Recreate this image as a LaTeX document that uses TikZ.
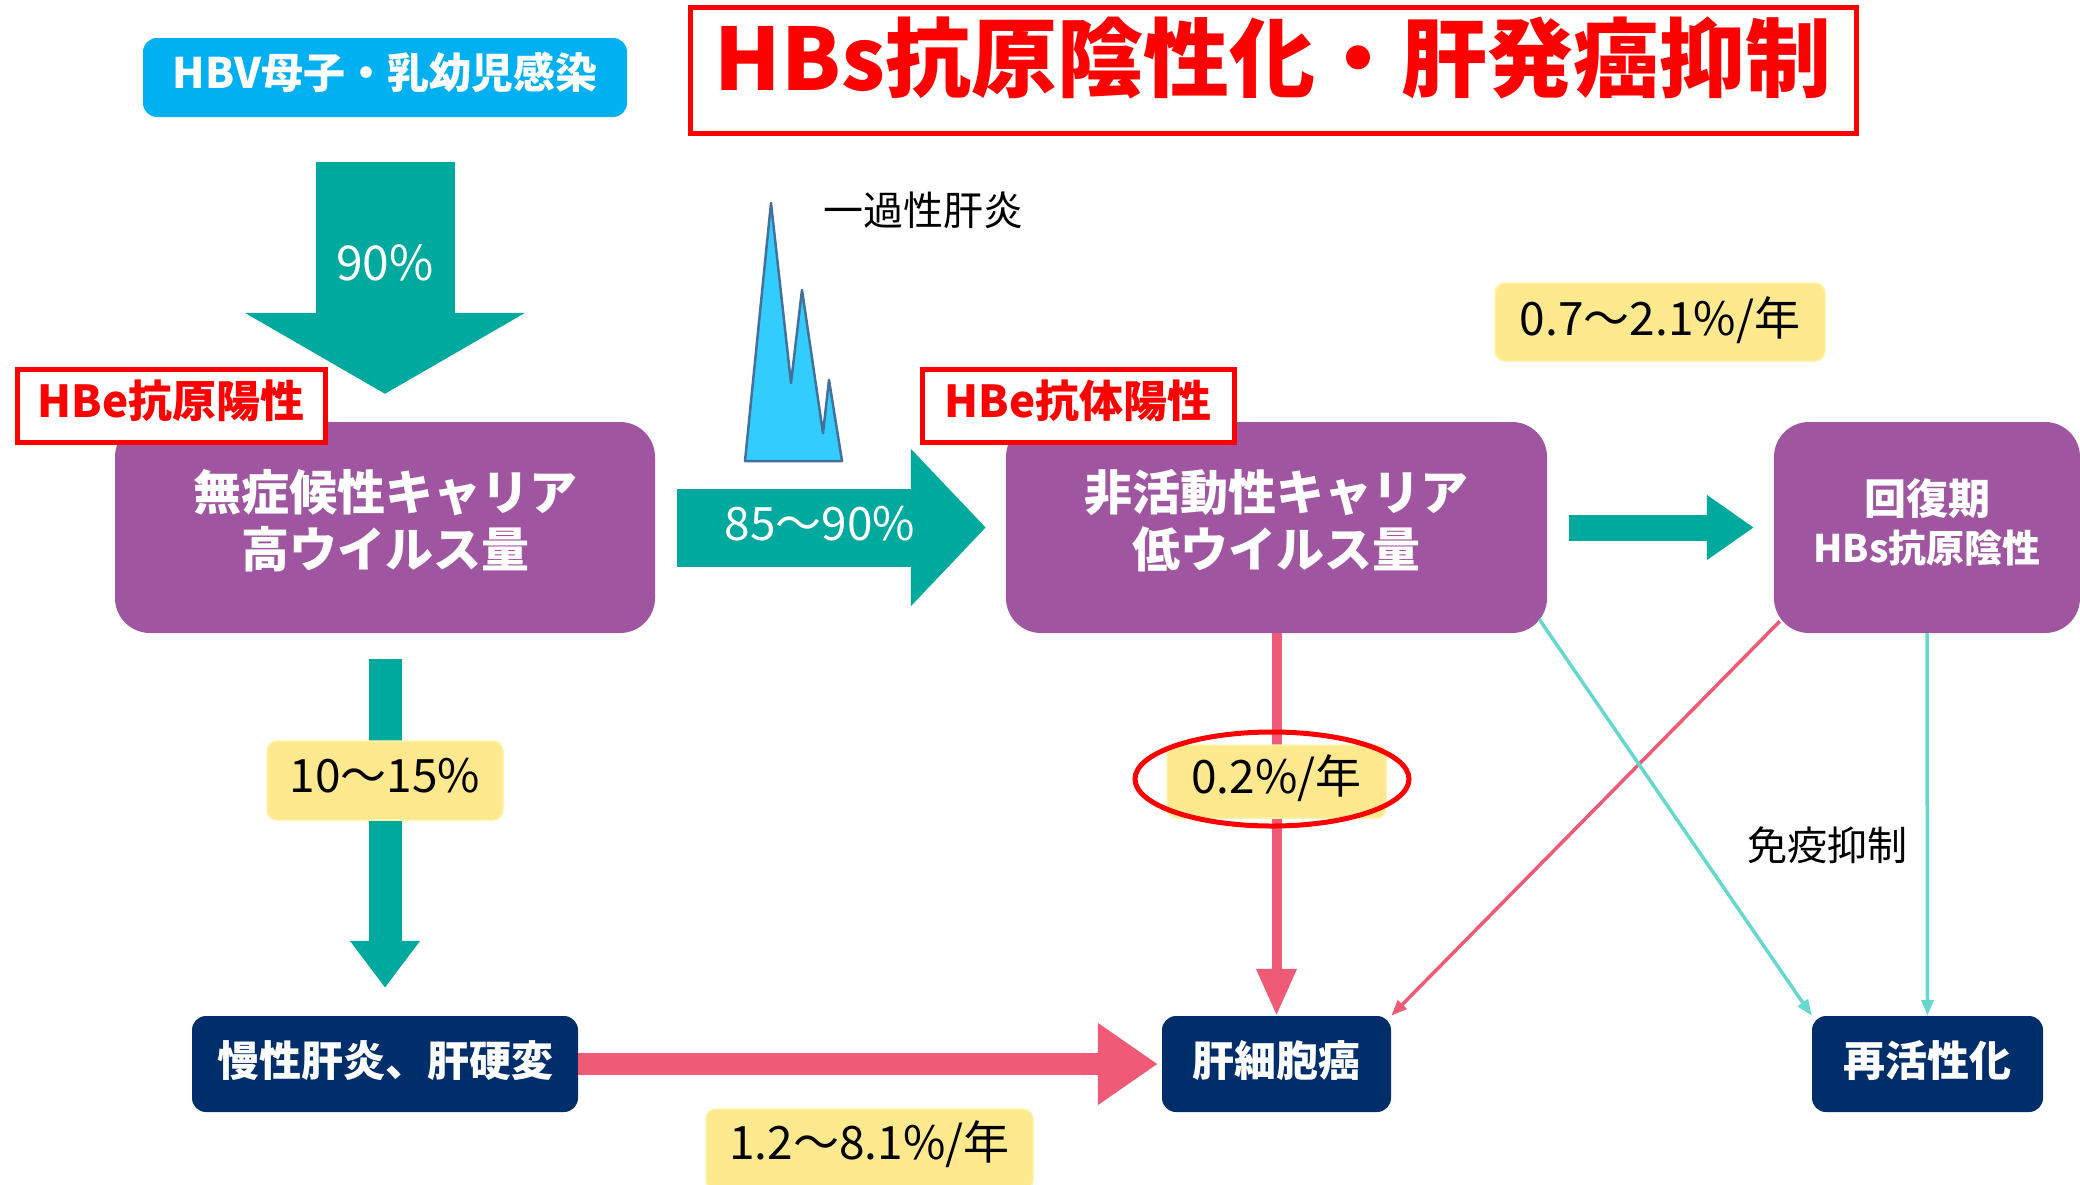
\documentclass[tikz,border=0pt]{standalone}
\usepackage{fontspec}
\setmainfont{Noto Sans CJK JP}
\usetikzlibrary{arrows.meta,shapes.geometric}
\definecolor{tealA}{HTML}{00A99D}
\definecolor{purp}{HTML}{A055A0}
\definecolor{navy}{HTML}{002E6B}
\definecolor{pinkA}{HTML}{EF5B76}
\definecolor{lteal}{HTML}{66D8CE}
\definecolor{yel}{HTML}{FFE98F}
\definecolor{yelb}{HTML}{FFF3A8}
\definecolor{cyanA}{HTML}{00B0F0}
\definecolor{spikefill}{HTML}{33CCFF}
\definecolor{spikeline}{HTML}{41719C}
\definecolor{redA}{HTML}{FF0000}
\tikzset{
  purplebox/.style={fill=purp, rounded corners=35pt, inner sep=0pt},
  purpletext/.style={anchor=base, text=white, inner sep=0pt, font=\bfseries\fontsize{48}{57}\selectfont},
  navybox/.style={fill=navy, rounded corners=14pt, text=white, inner sep=0pt,
    text height=24pt, text depth=0pt, font=\bfseries\fontsize{42}{50}\selectfont},
  ybox/.style={fill=yel, draw=yelb, line width=1.5pt, rounded corners=10pt, inner sep=0pt,
    text height=34pt, text depth=0pt, font=\fontsize{46}{55}\selectfont},
  redlabel/.style={draw=redA, line width=5pt, fill=white, text=redA, inner sep=0pt,
    text height=23.4pt, text depth=0pt, font=\bfseries\fontsize{44}{52}\selectfont},
  plain/.style={inner sep=0pt, text height=30.4pt, text depth=0pt, font=\fontsize{40}{48}\selectfont},
  whitetxt/.style={inner sep=0pt, text=white, text height=33.6pt, text depth=0pt, font=\fontsize{46}{55}\selectfont},
  bigarrow/.style={line cap=butt},
  thinarrow/.style={line width=3.5pt},
}
\begin{document}
\begin{tikzpicture}[x=1pt,y=-1pt]
\useasboundingbox (0,0) rectangle (2080,1184);

% top
\node[fill=cyanA, rounded corners=14pt, text=white, inner sep=0pt, minimum width=484pt, minimum height=79pt,
  text height=21.9pt, text depth=0pt, font=\bfseries\fontsize{42}{50}\selectfont] (hbv) at (385,77.5) {HBV母子・乳幼児感染};
\node[draw=redA, line width=5pt, text=redA, inner sep=0pt, minimum width=1166pt, minimum height=126pt,
  text height=41.4pt, text depth=0pt, font=\bfseries\fontsize{86}{100}\selectfont] (title) at (1273,70) {HBs抗原陰性化・肝発癌抑制};

% main boxes
\node[purplebox, minimum width=540pt, minimum height=211pt] (box1) at (385,527.5) {};
\node[purpletext] (box1a) at (385,510) {無症候性キャリア};
\node[purpletext] (box1b) at (385,567) {高ウイルス量};
\node[purplebox, minimum width=541pt, minimum height=211pt] (box2) at (1276.5,527.5) {};
\node[purpletext] (box2a) at (1276.5,510) {非活動性キャリア};
\node[purpletext] (box2b) at (1276.5,567) {低ウイルス量};
\node[purplebox, minimum width=306pt, minimum height=211pt] (box3) at (1927,527.5) {};
\node[purpletext, font=\bfseries\fontsize{42}{50}\selectfont] (box3a) at (1927,514) {回復期};
\node[purpletext, font=\bfseries\fontsize{38}{46}\selectfont] (box3b) at (1927,562) {HBs抗原陰性};

\node[redlabel, minimum width=308pt, minimum height=73pt] (hbe1) at (171,405.5) {HBe抗原陽性};
\node[redlabel, minimum width=312pt, minimum height=73pt] (hbe2) at (1078,405.5) {HBe抗体陽性};

\node[navybox, minimum width=386pt, minimum height=96pt] (navy1) at (385,1064) {慢性肝炎、肝硬変};
\node[navybox, minimum width=229pt, minimum height=96pt] (hcc) at (1276.5,1064) {肝細胞癌};
\node[navybox, minimum width=231pt, minimum height=96pt] (react) at (1927.5,1064) {再活性化};

% spike
\draw[fill=spikefill, draw=spikeline, line width=2.5pt, line join=round]
  (745,461) -- (771,203) -- (791,383) -- (802,290) -- (823,433) -- (829,380) -- (842,461) -- cycle;
\node[plain] (acute) at (923,210) {一過性肝炎};

% thick arrows
\draw[bigarrow, draw=tealA, line width=139pt, shorten <=45pt, shorten >=28pt,
  -{Triangle[length=81pt,width=277pt]}] (hbv.south) -- (box1.north);
\node[whitetxt, text height=35pt, font=\fontsize{48}{56}\selectfont] (p90) at (385,263) {90\%};

\draw[bigarrow, draw=tealA, line width=78pt, shorten <=22pt, shorten >=20pt,
  -{Triangle[length=75pt,width=153pt]}] (box1.east) -- (box2.west);
\node[whitetxt] (p8590) at (820,524) {85～90\%};

\draw[bigarrow, draw=tealA, line width=26pt, shorten <=22pt, shorten >=20pt,
  -{Triangle[length=47pt,width=62pt]}] (box2.east) -- (box3.west);

\draw[bigarrow, draw=tealA, line width=33pt, shorten <=26pt, shorten >=28pt,
  -{Triangle[length=47pt,width=67pt]}] (box1.south) -- (navy1.north);

\draw[bigarrow, draw=pinkA, line width=22pt, shorten >=4pt,
  -{Triangle[length=60pt,width=78pt]}] (navy1.east) -- (hcc.west);

\draw[bigarrow, draw=pinkA, line width=10pt,
  -{Triangle[length=47pt,width=38pt]}] (box2.south) -- (hcc.north);

% thin arrows
\draw[thinarrow, draw=pinkA, -{Triangle[length=16pt,width=12pt]}]
  ([xshift=6pt,yshift=12pt]box3.south west) -- (hcc.north east);
\draw[thinarrow, draw=lteal, -{Triangle[length=16pt,width=12pt]}]
  ([xshift=-8pt,yshift=14pt]box2.south east) -- (react.north west);
\draw[thinarrow, draw=lteal, -{Triangle[length=16pt,width=12pt]}]
  (box3.south) -- (react.north);
\node[plain] (immuno) at (1827,845) {免疫抑制};

% yellow labels
\node[ybox, minimum width=330pt, minimum height=78pt, text height=26pt] (y07) at (1660,322) {0.7～2.1\%/年};
\node[ybox, minimum width=236pt, minimum height=79pt, text height=24pt] (y1015) at (385,780.5) {10～15\%};
\node[ybox, minimum width=219pt, minimum height=73pt, text height=24pt] (y02) at (1276.5,781.5) {0.2\%/年};
\node[draw=redA, line width=5pt, ellipse, minimum width=274pt, minimum height=94pt, inner sep=0pt] (ring) at (1272,779) {};
\node[ybox, minimum width=327pt, minimum height=81pt, text height=19pt] (y128) at (869.5,1149.5) {1.2～8.1\%/年};

\end{tikzpicture}
\end{document}
